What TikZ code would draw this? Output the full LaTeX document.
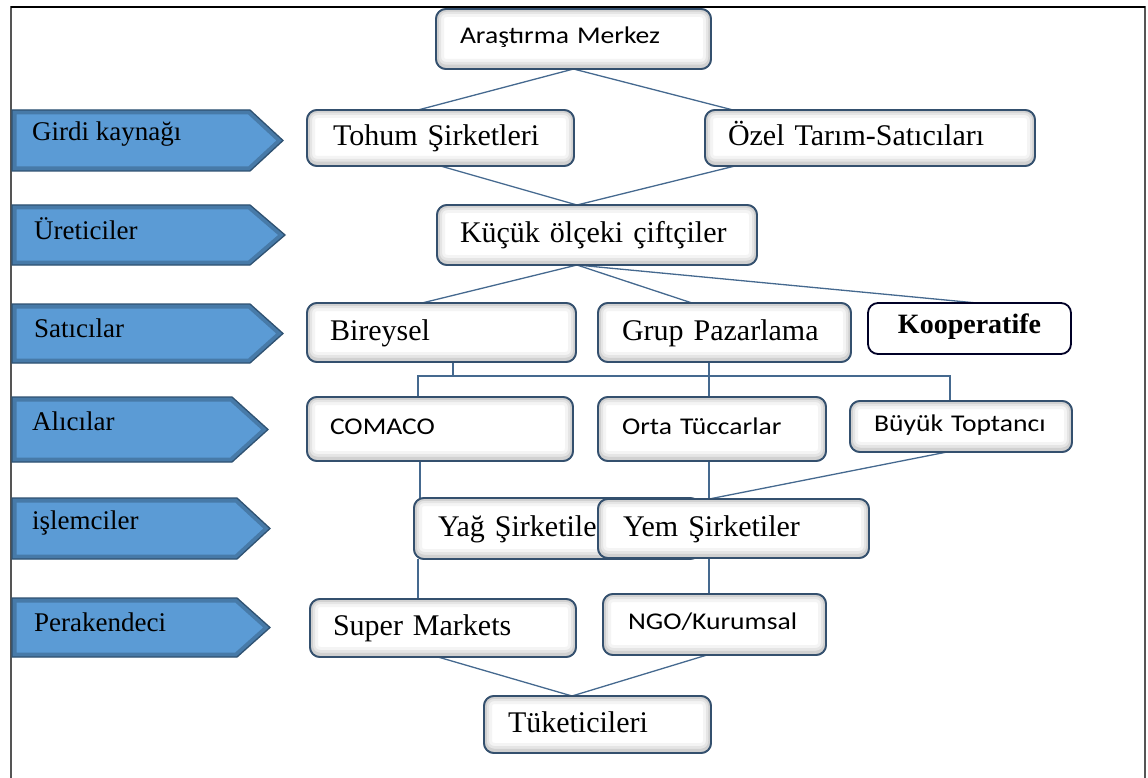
\documentclass[tikz,border=0pt]{standalone}
\usepackage{fontspec}
\setmainfont{Liberation Serif}
\newfontfamily\calfont[FakeStretch=1.15]{Carlito}
\usetikzlibrary{backgrounds,calc}
\definecolor{arrfill}{HTML}{5B9BD5}
\definecolor{arrline}{HTML}{2F5272}
\definecolor{boxc}{HTML}{34506E}
\definecolor{conn}{HTML}{45698F}
\definecolor{framec}{HTML}{555555}
\tikzset{
  box/.style={draw=boxc, line width=1.8pt, fill=white, rounded corners=10pt,
    outer sep=0pt, inner ysep=0pt, anchor=north west, align=left},
  plainbox/.style={draw=black!85!blue, line width=1.8pt, fill=white, rounded corners=10pt,
    outer sep=0pt, inner ysep=0pt, anchor=north west, align=center},
  serif/.style={font=\fontsize{30}{32}\selectfont, text height=21pt, text depth=6pt},
  sans/.style={font=\calfont\fontsize{24}{28}\selectfont, text height=16pt, text depth=6pt},
  lab/.style={font=\fontsize{27}{30}\selectfont, anchor=west, inner sep=0pt},
  stagefill/.style={fill=arrfill},
  stageglow/.style={draw=arrline, opacity=0.45, line width=9pt},
  stageedge/.style={draw=arrline, line width=1.3pt, line join=miter},
  link/.style={draw=conn, line width=1.3pt},
  glowA/.style={draw=gray!9, line width=16pt, rounded corners=10pt},
  glowB/.style={draw=gray!20, line width=10pt, rounded corners=10pt},
  glowC/.style={draw=gray!36, line width=5.5pt, rounded corners=10pt},
  rim/.style={draw=boxc, line width=1.8pt, rounded corners=10pt},
}
\newcommand\stagearrow[4]{%
  \fill[stagefill] (12,#1) -- (#3,#1) -- (#4,{(#1+#2)/2}) -- (#3,#2) -- (12,#2) -- cycle;
  \begin{scope}
    \clip (12,#1) -- (#3,#1) -- (#4,{(#1+#2)/2}) -- (#3,#2) -- (12,#2) -- cycle;
    \draw[stageglow] (12,#1) -- (#3,#1) -- (#4,{(#1+#2)/2}) -- (#3,#2) -- (12,#2) -- cycle;
  \end{scope}
  \draw[stageedge] (12,#1) -- (#3,#1) -- (#4,{(#1+#2)/2}) -- (#3,#2) -- (12,#2) -- cycle;
}
% a box node followed by its inner shadow
\newcommand\shbox[4]{%
  \node[box,#1] (#2) at (#3) {#4};
  \begin{scope}
    \clip[rounded corners=10pt] (#2.south west) rectangle (#2.north east);
    \draw[glowA] ([yshift=2pt]#2.south west) rectangle (#2.north east);
    \draw[glowB] ([yshift=2pt]#2.south west) rectangle (#2.north east);
    \draw[glowC] ([yshift=1.5pt]#2.south west) rectangle (#2.north east);
  \end{scope}
  \draw[rim] (#2.south west) rectangle (#2.north east);
}
\begin{document}
\begin{tikzpicture}[x=1pt, y=-1pt]
\useasboundingbox (0,0) rectangle (1148,778);
% frame
\draw[framec, line width=2pt] (11,778) -- (11,7) -- (1145,7) -- (1145,778);
\draw[black, line width=1.2pt] (11,7) -- (1145,7);

% stage arrows
\stagearrow{110}{171}{250}{283}
\stagearrow{205}{265}{250}{285}
\stagearrow{304}{363}{250}{283}
\stagearrow{397}{462}{232}{268}
\stagearrow{498}{559}{237}{270}
\stagearrow{598}{657}{237}{270}
\node[lab] (l1) at (32,134) {Girdi kaynağı};
\node[lab] (l2) at (34,229) {Üreticiler};
\node[lab] (l3) at (34,328) {Satıcılar};
\node[lab] (l4) at (32,421) {Alıcılar};
\node[lab] (l5) at (32,523) {işlemciler};
\node[lab] (l6) at (34,622) {Perakendeci};

% boxes
\shbox{sans, minimum height=60pt, text width=227pt, inner xsep=24pt}{ar}{436,9}{Araştırma Merkez}
\shbox{serif, minimum height=56pt, text width=215pt, inner xsep=26pt}{toh}{307,110}{Tohum Şirketleri}
\shbox{serif, minimum height=56pt, text width=284pt, inner xsep=23pt}{oz}{705,110}{Özel Tarım-Satıcıları}
\shbox{serif, minimum height=60pt, text width=274pt, inner xsep=23pt}{kuc}{437,205}{Küçük ölçeki çiftçiler}
\shbox{serif, minimum height=59pt, text width=223pt, inner xsep=23pt}{bir}{307,303}{Bireysel}
\shbox{serif, minimum height=59pt, text width=205pt, inner xsep=24pt}{grup}{598,303}{Grup Pazarlama}
\node[plainbox, minimum height=51pt, text width=183pt, inner xsep=10pt, text height=19pt, text depth=10pt,
      font=\bfseries\fontsize{28}{30}\selectfont] (koop) at (868,303) {Kooperatife};
\shbox{sans, minimum height=64pt, text width=220pt, inner xsep=23pt}{com}{307,397}{COMACO}
\shbox{sans, minimum height=64pt, text width=180pt, inner xsep=24pt}{orta}{598,397}{Orta Tüccarlar}
\shbox{sans, minimum height=51pt, text width=174pt, inner xsep=24pt}{buy}{850,401}{Büyük Toptancı}
\shbox{serif, minimum height=61pt, text width=238pt, inner xsep=24pt}{yag}{414,498}{Yağ Şirketiler}
\shbox{serif, minimum height=59pt, text width=221pt, inner xsep=25pt}{yem}{598,499}{Yem Şirketiler}
\shbox{serif, minimum height=58pt, text width=220pt, inner xsep=23pt}{sup}{310,599}{Super Markets}
\shbox{sans, minimum height=61pt, text width=173pt, inner xsep=25pt}{ngo}{603,594}{NGO/Kurumsal}
\shbox{serif, minimum height=57pt, text width=179pt, inner xsep=24pt}{tuk}{484,696}{Tüketicileri}

% connectors
\begin{pgfonlayer}{background}
\draw[link] (ar.south) -- ([xshift=-22.5pt]toh.north);
\draw[link] (ar.south) -- ([xshift=-137pt]oz.north);
\draw[link] (toh.south) -- ([xshift=-20pt]kuc.north);
\draw[link] ([xshift=-135pt]oz.south) -- ([xshift=-20pt]kuc.north);
\draw[link] ([xshift=-20pt]kuc.south) -- ([xshift=-19.5pt]bir.north);
\draw[link] ([xshift=-20pt]kuc.south) -- ([xshift=-32.5pt]grup.north);
\draw[link] ([xshift=-20pt]kuc.south) -- ([xshift=7.5pt]koop.north);
\coordinate (busL) at (418,376);
\coordinate (busR) at (950,376);
\draw[link] ([xshift=11.5pt]bir.south) -- ([xshift=11.5pt]bir.south |- busL);
\draw[link] (busL |- com.north) -- (busL) -- (busR) -- (busR |- buy.north);
\draw[link] ([xshift=-15.5pt]grup.south) -- ([xshift=-15.5pt]grup.south |- orta.north);
\draw[link] ([xshift=-20pt]com.south) -- ([xshift=-20pt]com.south |- yag.north);
\draw[link] ([xshift=-3pt]orta.south) -- ([xshift=-3pt]orta.south |- yem.north);
\draw[link] ([xshift=-14pt]buy.south) -- ([xshift=-24.5pt]yem.north);
\draw[link] ([xshift=-25pt]sup.north) -- ([xshift=-25pt]sup.north |- yag.south);
\draw[link] ([xshift=-24.5pt]yem.south) -- ([xshift=-24.5pt]yem.south |- ngo.north);
\draw[link] ([xshift=-5pt]sup.south) -- ([xshift=-25.5pt]tuk.north);
\draw[link] ([xshift=-7.5pt]ngo.south) -- ([xshift=-25.5pt]tuk.north);
\end{pgfonlayer}
\end{tikzpicture}
\end{document}
